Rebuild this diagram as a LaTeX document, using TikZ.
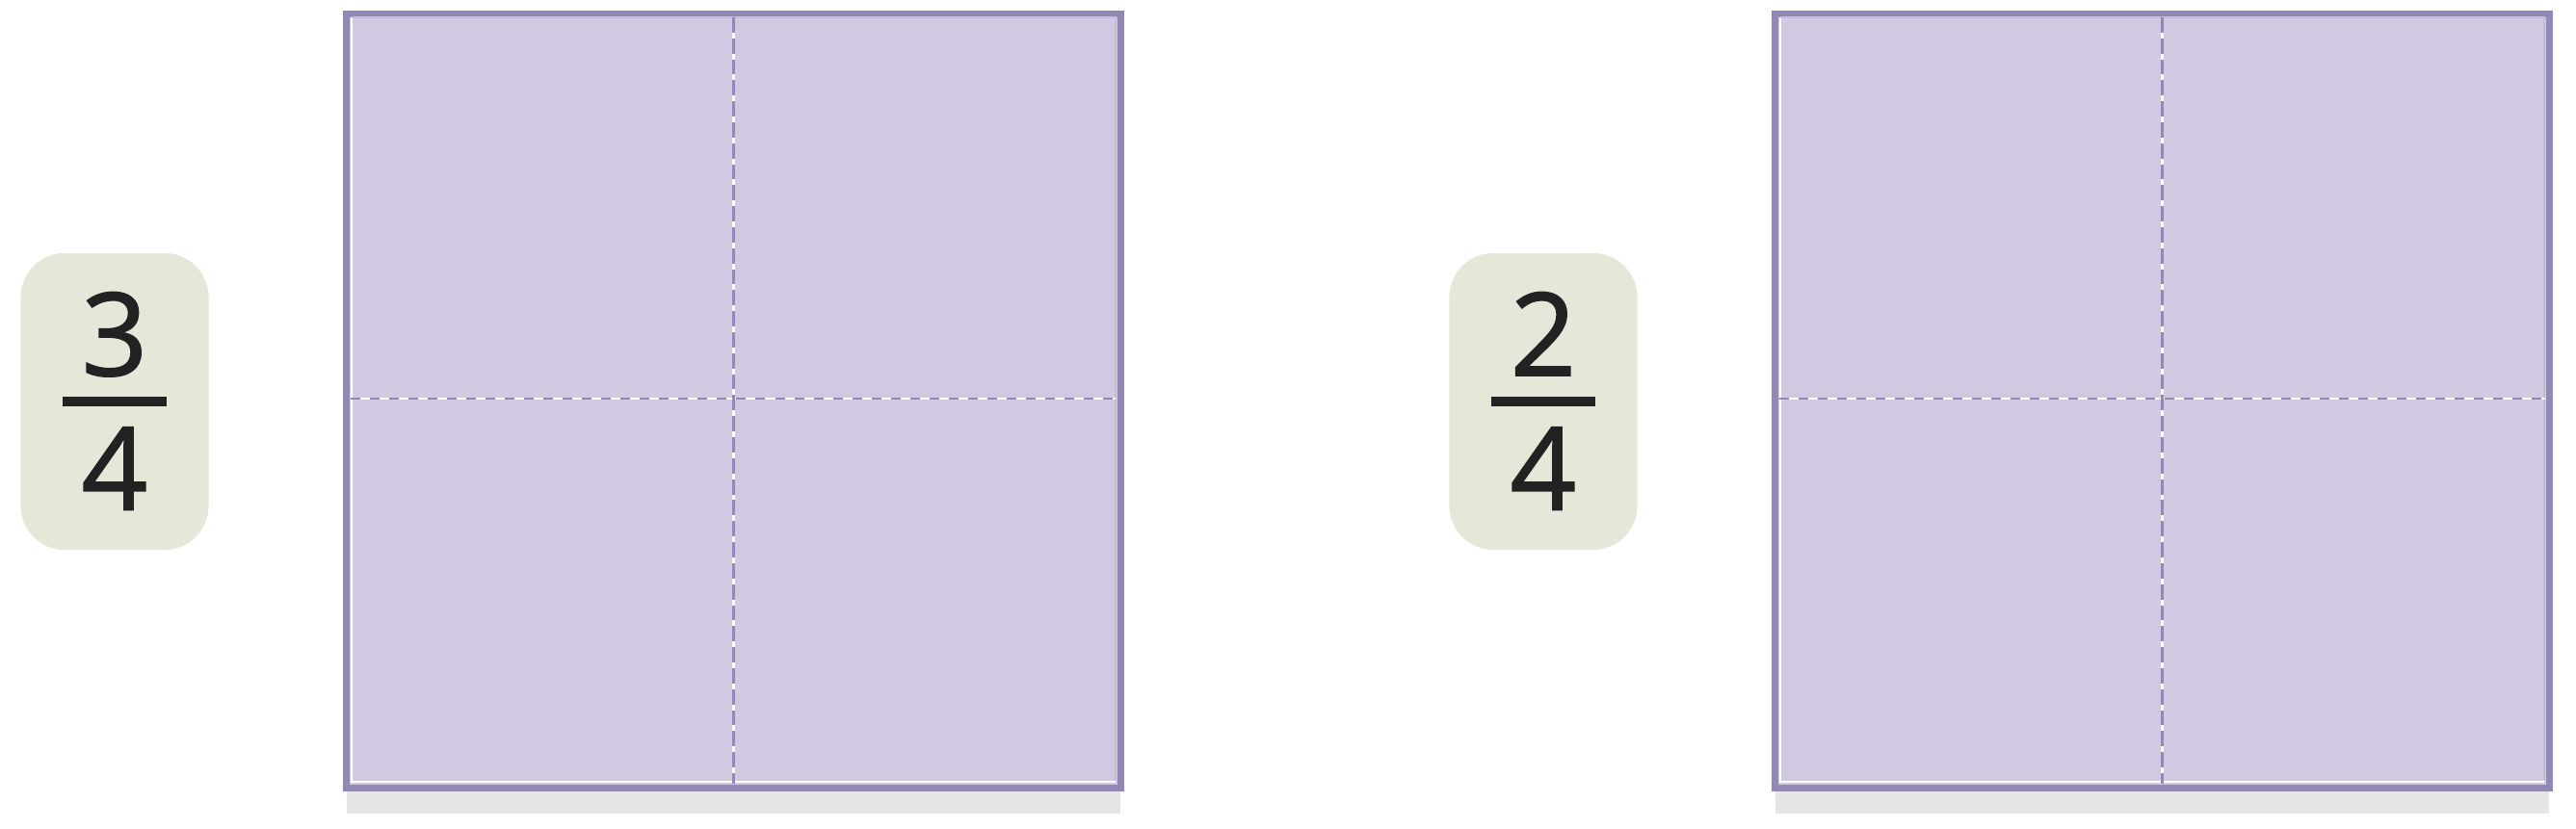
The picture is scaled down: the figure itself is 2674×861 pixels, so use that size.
\documentclass[tikz,border=0pt]{standalone}
\usepackage{fontspec}
\setmainfont{Open Sans}
\newfontfamily\cardfont{Open Sans}[FakeBold=1.4]
\usetikzlibrary{positioning}
\definecolor{gridline}{RGB}{146,136,181}
\definecolor{gridfill}{RGB}{209,201,225}
\definecolor{cardfill}{RGB}{229,231,217}
\definecolor{shadowgray}{RGB}{229,229,229}
\definecolor{digitink}{RGB}{34,34,34}

\begin{document}
\begin{tikzpicture}[x=0.01cm, y=-0.01cm, every node/.style={font=\cardfont\fontsize{34}{40}\selectfont, text=digitink}]
    \useasboundingbox (0,0) rectangle (2674,861);

    \foreach \dx/\top/\tag in {0/3/l, 1483/2/r} {
        % Fraction card (numerator over 4)
        \node[fill=cardfill, rounded corners=13pt, minimum width=1.95cm, minimum height=3.08cm, inner sep=0pt] (card\tag) at (119+\dx, 417) {};
        \node[anchor=base, inner sep=0pt] (num\tag) at (119+\dx, 390) {\top};
        \node[anchor=base, inner sep=0pt] (den\tag) at (119+\dx, 529.5) {4};
        \draw[digitink, line width=2.6pt] ([xshift=-0.535cm]card\tag.center) -- ([xshift=0.535cm]card\tag.center);

        % Square split into quarters, with its shadow
        \fill[shadowgray] (360+\dx, 818) rectangle (1163+\dx, 845);
        \node[fill=gridfill, draw=gridline, line width=2.1pt, outer sep=0pt, minimum size=8.035cm, inner sep=0pt] (sq\tag) at (761.5+\dx, 416.5) {};
        \draw[white, line width=0.6pt] ([shift={(5.25,3.5)}]sq\tag.north west) -- ([shift={(5.25,-6.75)}]sq\tag.south west) -- ([shift={(-5.5,-6.75)}]sq\tag.south east);
        \draw[gridline!55!white, line width=0.5pt] ([shift={(5.25,3.75)}]sq\tag.north west) -- ([shift={(-5.25,3.75)}]sq\tag.north east) -- ([shift={(-5.25,-8.5)}]sq\tag.south east);
        \coordinate (vt\tag) at ([shift={(0,3.5)}]sq\tag.north);
        \coordinate (vb\tag) at ([shift={(0,-4)}]sq\tag.south);
        \coordinate (hl\tag) at ([shift={(4,-2.5)}]sq\tag.west);
        \coordinate (hr\tag) at ([shift={(-5,-2.5)}]sq\tag.east);
        \draw[white, line width=0.85pt] (vt\tag) -- (vb\tag);
        \draw[white, line width=0.85pt] (hl\tag) -- (hr\tag);
        \draw[gridline, line width=0.85pt, dash pattern=on 4.5pt off 1.7pt] (vt\tag) -- (vb\tag);
        \draw[gridline, line width=0.85pt, dash pattern=on 2.85pt off 2.85pt] (hl\tag) -- (hr\tag);
    }
\end{tikzpicture}
\end{document}
